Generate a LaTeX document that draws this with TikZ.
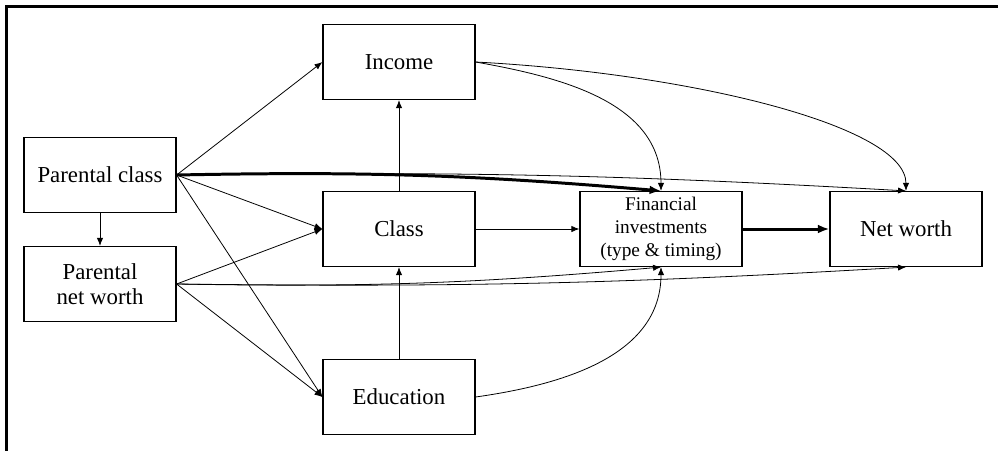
\documentclass[tikz,border=0pt]{standalone}
\usepackage{fontspec}
\setmainfont{Liberation Serif}
\usetikzlibrary{arrows.meta}
\begin{document}
\begin{tikzpicture}[x=0.02cm,y=-0.02cm,
    box/.style={draw,line width=0.7pt,minimum width=3.04cm,minimum height=1.5cm,
      align=center,inner sep=1pt,font=\fontsize{13}{14.5}\selectfont},
    arr/.style={line width=0.45pt,-{Latex[length=4.5pt,width=3.6pt]}},
    strongarr/.style={line width=1.7pt,-{Latex[length=6.5pt,width=5pt]}}]
  \useasboundingbox (0,0) rectangle (998,451);
  \draw[line width=1.2pt] (998,6.5) -- (6.5,6.5) -- (6.5,451);
  \draw
    (100,175) node[box] (pclass){Parental class}
    (100,284) node[box] (pnw){Parental\\net worth}
    (399,62) node[box] (income){Income}
    (399,229) node[box] (class){Class}
    (399,397) node[box] (edu){Education}
    (661,229) node[box,minimum width=3.24cm,font=\fontsize{11}{13.3}\selectfont] (fin){Financial\\investments\\(type \& timing)}
    (906,229) node[box] (nw){Net worth};
  \begin{scope}[arr]
    \draw (pclass) to (pnw);
    \draw (pclass.east) to (income.west);
    \draw (pclass.east) to (class.west);
    \draw (pclass.east) to (edu.west);
    \draw (pclass.east) to[bend left=2] (nw.north);
    \draw (pnw.east) to (class.west);
    \draw (pnw.east) to (edu.west);
    \draw (pnw.east) to[bend right=3] (fin.south);
    \draw (pnw.east) to[bend right=2] (nw.south);
    \draw (class) to (income);
    \draw (edu) to (class);
    \draw (class) to (fin);
    \draw (income.east) to[out=-10,in=90] (fin.north);
    \draw (income.east) to[out=-3,in=90,out distance=4.3cm,in distance=1.3cm] (nw.north);
    \draw (edu.east) to[out=8,in=-90] (fin.south);
  \end{scope}
  \draw[strongarr] (pclass.east) to[bend left=3] (fin.north);
  \draw[strongarr] (fin) to (nw);
\end{tikzpicture}
\end{document}
